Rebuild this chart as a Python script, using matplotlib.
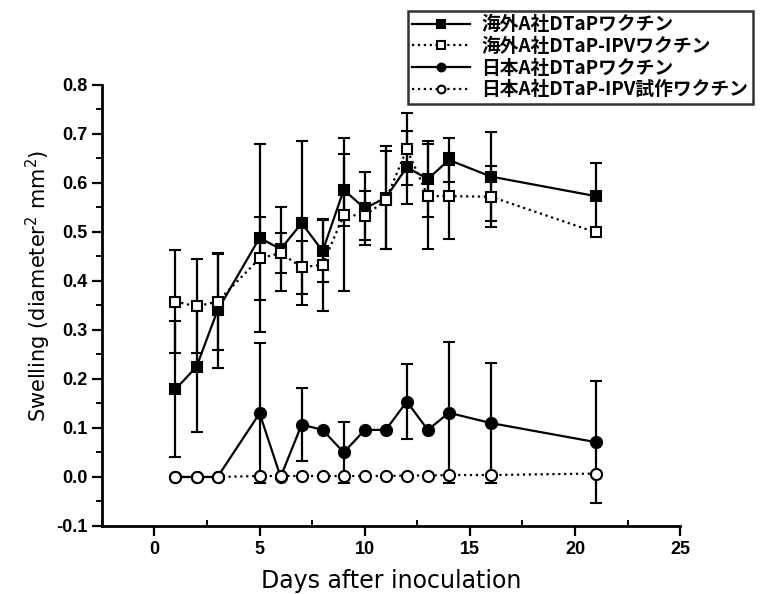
import matplotlib
matplotlib.use("Agg")
import matplotlib.pyplot as plt
from matplotlib.ticker import MultipleLocator

plt.rcParams['font.family'] = ['Liberation Sans', 'Noto Sans CJK JP', 'DejaVu Sans']

# ---- data ----
days = [1, 2, 3, 5, 6, 7, 8, 9, 10, 11, 12, 13, 14, 16, 21]

labels = ["海外A社DTaPワクチン", "海外A社DTaP-IPVワクチン",
          "日本A社DTaPワクチン", "日本A社DTaP-IPV試作ワクチン"]

foreign_dtap = [0.179, 0.225, 0.340, 0.488, 0.465, 0.518, 0.461, 0.586, 0.548,
                0.570, 0.632, 0.608, 0.647, 0.613, 0.573]
foreign_dtap_err = [0.139, 0.133, 0.117, 0.192, 0.085, 0.168, 0.063, 0.073, 0.075,
                    0.105, 0.075, 0.078, 0.045, 0.090, 0.068]

foreign_ipv = [0.358, 0.348, 0.358, 0.446, 0.457, 0.428, 0.433, 0.535, 0.533,
               0.565, 0.669, 0.573, 0.573, 0.572, 0.499]
foreign_ipv_err = [0.105, 0.096, 0.098, 0.085, 0.040, 0.054, 0.094, 0.156, 0.050,
                   0.100, 0.074, 0.107, 0.088, 0.062, 0.005]

japan_dtap = [0.0, 0.0, 0.0, 0.130, 0.0, 0.107, 0.096, 0.050, 0.096,
              0.096, 0.154, 0.096, 0.131, 0.110, 0.071]
japan_dtap_err = [0.0, 0.0, 0.0, 0.143, 0.0, 0.075, 0.0, 0.063, 0.0,
                  0.0, 0.076, 0.0, 0.144, 0.123, 0.125]

japan_ipv = [0.0, 0.0, 0.0, 0.002, 0.002, 0.002, 0.002, 0.002, 0.002,
             0.002, 0.003, 0.003, 0.004, 0.004, 0.007]
japan_ipv_err = [0.0] * 15

xticks = [0, 5, 10, 15, 20, 25]
yticks = [-0.1, 0.0, 0.1, 0.2, 0.3, 0.4, 0.5, 0.6, 0.7, 0.8]

# ---- figure ----
fig = plt.figure(figsize=(7.66, 5.94), dpi=100)
ax = fig.add_axes([0.133, 0.1145, 0.755, 0.7425])

series = [
    (foreign_dtap, foreign_dtap_err, dict(marker='s', ls='-', mfc='black', ms=7.5)),
    (foreign_ipv, foreign_ipv_err, dict(marker='s', ls=':', mfc='white', ms=7.5)),
    (japan_dtap, japan_dtap_err, dict(marker='o', ls='-', mfc='black', ms=8)),
    (japan_ipv, japan_ipv_err, dict(marker='o', ls=':', mfc='white', ms=8)),
]

handles = []
for i, (vals, errs, st) in enumerate(series):
    eb = ax.errorbar(days, vals, yerr=errs, color='black', ecolor='black',
                     elinewidth=1.6, capsize=4, capthick=1.8, lw=1.6,
                     mec='black', mew=1.5, zorder=2 + i, **st)
    handles.append(eb[0])

ax.set_xlim(-2.5, 25)
ax.set_ylim(-0.1, 0.8)
ax.set_xticks(xticks)
ax.set_yticks(yticks)
ax.set_yticklabels([f"{t:.1f}" for t in yticks])
ax.xaxis.set_minor_locator(MultipleLocator(2.5))
ax.yaxis.set_minor_locator(MultipleLocator(0.05))

for s in ['top', 'right']:
    ax.spines[s].set_visible(False)
for s in ['left', 'bottom']:
    ax.spines[s].set_linewidth(2)

ax.tick_params(axis='both', which='major', length=7, width=1.6, labelsize=13)
ax.tick_params(axis='x', which='minor', direction='in', length=4, width=1.4)
ax.tick_params(axis='y', which='minor', direction='out', length=4, width=1.4)
for lab in ax.get_xticklabels() + ax.get_yticklabels():
    lab.set_fontweight('bold')

ax.set_xlabel("Days after inoculation", fontsize=17, family=['DejaVu Sans'])
ax.set_ylabel("Swelling (diameter$^2$ mm$^2$)", fontsize=15, family=['DejaVu Sans'])
ax.xaxis.set_label_coords(0.5, -0.098)
ax.yaxis.set_label_coords(-0.085, 0.545)

leg = fig.legend(handles, labels, loc='upper left', bbox_to_anchor=(0.532, 0.982),
                 prop={'family': ['Noto Sans CJK JP', 'DejaVu Sans'], 'size': 13.5,
                       'weight': 'bold'},
                 frameon=True, fancybox=False, edgecolor='black', handlelength=3.1,
                 handletextpad=0.6, labelspacing=0.14, borderpad=0.25,
                 borderaxespad=0.0, numpoints=1, markerscale=0.7)
leg.get_frame().set_linewidth(1.8)

fig.savefig("out.png", dpi=100, facecolor='white')
